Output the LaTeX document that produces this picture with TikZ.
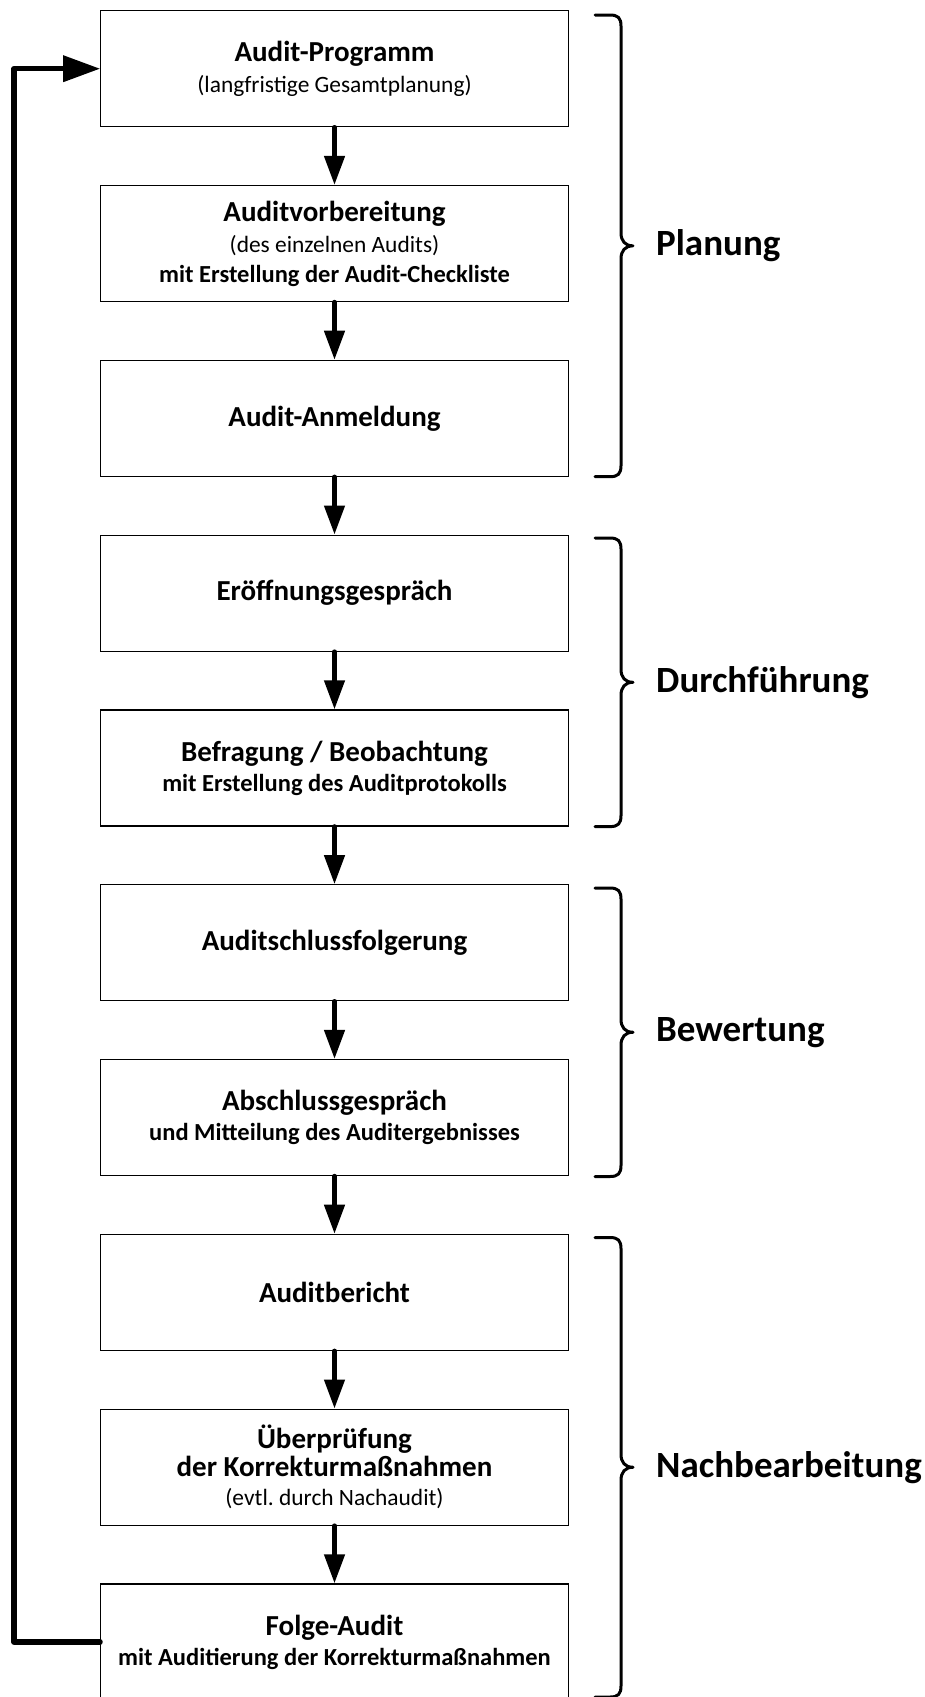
\documentclass[tikz,border=0pt]{standalone}
\usepackage{fontspec}
\setmainfont{Carlito}
\usetikzlibrary{arrows.meta}
\newcommand\boxtitle{\fontsize{29}{30}\selectfont\bfseries}
\newcommand\boxsub{\fontsize{23.4}{31}\selectfont\mdseries}
\newcommand\boxsmall{\fontsize{24.5}{30}\selectfont\bfseries}
\begin{document}
\begin{tikzpicture}[x=1pt,y=-1pt,
  stepbox/.style={draw, line width=1.2pt, minimum width=467.5pt, minimum height=116pt,
    align=center, inner sep=0pt, font=\fontsize{29}{30}\selectfont},
  flow/.style={line width=4.6pt, line cap=round, -{Triangle[length=29pt,width=20pt]}},
  loop/.style={line width=5.2pt, line cap=round, line join=round, -{Triangle[length=37pt,width=25.5pt]}},
  brace/.style={line width=3pt, line cap=round, line join=round},
  phase/.style={anchor=west, inner sep=0pt, font=\fontsize{37}{40}\selectfont\bfseries}]
\useasboundingbox (0,0) rectangle (925,1697);

\node[stepbox] (b1) at (334.5,68.7) {\boxtitle Audit-Programm\\[1pt] \boxsub (langfristige Gesamtplanung)};
\node[stepbox] (b2) at (334.5,243.5) {\boxtitle Auditvorbereitung\\[1pt] \boxsub (des einzelnen Audits)\\ \boxsmall mit Erstellung der Audit-Checkliste};
\node[stepbox] (b3) at (334.5,418.3) {\boxtitle Audit-Anmeldung};
\node[stepbox] (b4) at (334.5,593.1) {\boxtitle Eröffnungsgespräch};
\node[stepbox] (b5) at (334.5,767.9) {\boxtitle Befragung / Beobachtung\\ \boxsmall mit Erstellung des Auditprotokolls};
\node[stepbox] (b6) at (334.5,942.7) {\boxtitle Auditschlussfolgerung};
\node[stepbox] (b7) at (334.5,1117.5) {\boxtitle Abschlussgespräch\\ \boxsmall und Mitteilung des Auditergebnisses};
\node[stepbox] (b8) at (334.5,1292.3) {\boxtitle Auditbericht};
\node[stepbox] (b9) at (334.5,1467.1) {\boxtitle Überprüfung\\[-2pt] \boxtitle der Korrekturmaßnahmen\\[-1pt] \boxsub (evtl.\ durch Nachaudit)};
\node[stepbox] (b10) at (334.5,1641.9) {\boxtitle Folge-Audit\\ \boxsmall mit Auditierung der Korrekturmaßnahmen};

\foreach \a/\b in {b1/b2,b2/b3,b3/b4,b4/b5,b5/b6,b6/b7,b7/b8,b8/b9,b9/b10}
  \draw[flow] (\a.south) -- (\b.north);

\coordinate (loopx) at (14,0);
\draw[loop] (b10.west) -- (b10.west -| loopx) -- (b1.west -| loopx) -- (b1.west);

% braces
\foreach \ya/\yb/\n/\t in {15/476.7/lab1/Planung, 538/826.6/lab2/Durchführung, 888/1176.5/lab3/Bewertung, 1237.5/1697/lab4/Nachbearbeitung}{
  \pgfmathsetmacro\ym{(\ya+\yb)/2}
  \draw[brace] (595,\ya) -- (610,\ya) .. controls (618,\ya) and (621,\ya+3) .. (621,\ya+11)
    -- (621,\ym-13) .. controls (621,\ym-5) and (625,\ym) .. (633,\ym)
    .. controls (625,\ym) and (621,\ym+5) .. (621,\ym+13)
    -- (621,\yb-11) .. controls (621,\yb-3) and (618,\yb) .. (610,\yb) -- (595,\yb);
  \node[phase] (\n) at (656,\ym) {\t};
}
\end{tikzpicture}
\end{document}
